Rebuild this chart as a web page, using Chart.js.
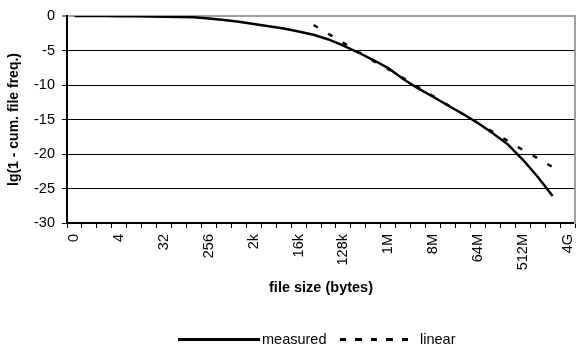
<!DOCTYPE html>
<html>
<head>
<meta charset="utf-8">
<script src="https://cdn.jsdelivr.net/npm/chart.js@4.4.0/dist/chart.umd.min.js"></script>
<style>
  html, body { margin: 0; padding: 0; background: #fff; }
  #wrap { position: relative; width: 576px; height: 349px; overflow: hidden; }
  #c { position: absolute; left: 0; top: 0; }
  .lg { position: absolute; font-family: 'Liberation Sans', Arial, sans-serif; font-size: 14.5px; color: #000; line-height: 16px; }
  .solid { position: absolute; height: 2.5px; background: #000; }
  .dashed { position: absolute; height: 2.5px; background: repeating-linear-gradient(to right, #000 0, #000 6.5px, transparent 6.5px, transparent 15.5px); }
</style>
</head>
<body>
<div id="wrap">
  <canvas id="c" width="576" height="349"></canvas>
  <div class="solid" style="left:178px; top:338px; width:82px;"></div>
  <div class="lg" style="left:262px; top:331px;">measured</div>
  <div class="dashed" style="left:340px; top:338px; width:74px;"></div>
  <div class="lg" style="left:420px; top:331px;">linear</div>
</div>
<script>
const categories = ['0','1','2','4','8','16','32','64','128','256','512','1k','2k','4k','8k','16k','32k','64k','128k','256k','512k','1M','2M','4M','8M','16M','32M','64M','128M','256M','512M','1G','2G','4G'];
const shownTicks = ['0','4','32','256','2k','16k','128k','1M','8M','64M','512M','4G'];
const measured = [0, 0, 0, -0.02, -0.05, -0.08, -0.1, -0.13, -0.19, -0.36, -0.58, -0.83, -1.16, -1.48, -1.81, -2.25, -2.72, -3.4, -4.28, -5.29, -6.38, -7.54, -9.13, -10.5, -11.7, -12.97, -14.2, -15.5, -17.0, -18.6, -20.8, -23.3, -26.1, null];
const linear = [null, null, null, null, null, null, null, null, null, null, null, null, null, null, null, null, -1.3, -2.6, -3.9, -5.2, -6.5, -7.7, -9.0, -10.3, -11.6, -12.9, -14.2, -15.5, -16.8, -18.1, -19.4, -20.6, -21.9, null];
const yTicks = [0, -5, -10, -15, -20, -25, -30];

const FAM = "'Liberation Sans', Arial, sans-serif";

new Chart(document.getElementById('c'), {
  type: 'line',
  data: {
    labels: categories,
    datasets: [
      { label: 'measured', data: measured, borderColor: '#000', borderWidth: 2.5, pointRadius: 0, fill: false, tension: 0, spanGaps: false },
      { label: 'linear', data: linear, borderColor: '#000', borderWidth: 2.5, borderDash: [5, 12], pointRadius: 0, fill: false, tension: 0 }
    ]
  },
  options: {
    responsive: false,
    animation: false,
    devicePixelRatio: 1,
    layout: { padding: { left: 0, top: 16, right: 1, bottom: 52 } },
    plugins: { legend: { display: false }, tooltip: { enabled: false } },
    scales: {
      x: {
        offset: true,
        grid: { offset: true, drawOnChartArea: false, drawTicks: true, tickLength: 5, color: '#000', lineWidth: 1 },
        border: { display: true, color: '#000', width: 1.5 },
        ticks: {
          autoSkip: false, minRotation: 90, maxRotation: 90, padding: 6, color: '#000',
          font: { family: FAM, size: 14.5 },
          callback: function (v) { const l = this.getLabelForValue(v); return shownTicks.includes(l) ? l : ''; }
        },
        title: { display: true, text: 'file size (bytes)', color: '#000', font: { family: FAM, size: 14.5, weight: 'bold' }, padding: { top: 0, bottom: 0 } },
        afterFit: s => { s.height = 74; s.paddingLeft = 0; s.paddingRight = 0; }
      },
      y: {
        min: -30, max: 0,
        afterBuildTicks: s => { s.ticks = yTicks.map(v => ({ value: v })); },
        ticks: { color: '#000', padding: 7, font: { family: FAM, size: 14.5 } },
        grid: {
          color: c => (c.tick && c.tick.value === 0) ? '#a0a0a0' : '#000',
          lineWidth: c => (c.tick && c.tick.value === 0) ? 2 : 1,
          tickColor: '#000', tickWidth: 1, tickLength: 5, drawTicks: true
        },
        border: { display: true, color: '#000', width: 2 },
        title: { display: true, text: 'lg(1 - cum. file freq.)', color: '#000', font: { family: FAM, size: 14, weight: 'bold' }, padding: { top: 6, bottom: 0 } },
        afterFit: s => { s.width = 67; s.paddingTop = 0; s.paddingBottom = 0; }
      },
      y2: {
        position: 'right',
        min: -30, max: 0,
        ticks: { display: false },
        grid: { drawOnChartArea: false, drawTicks: false },
        border: { display: true, color: '#a0a0a0', width: 2 },
        afterFit: s => { s.width = 0; s.paddingTop = 0; s.paddingBottom = 0; }
      }
    }
  }
});
</script>
</body>
</html>
